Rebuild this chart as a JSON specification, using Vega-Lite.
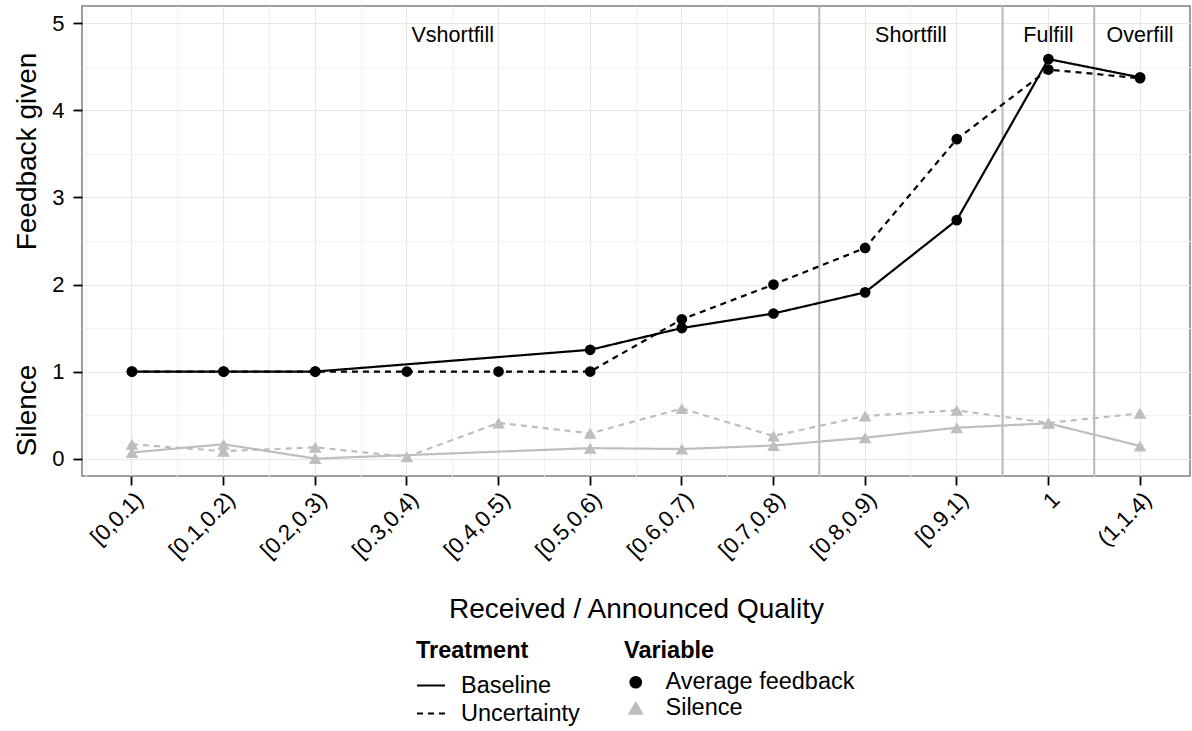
{
  "$schema": "https://vega.github.io/schema/vega-lite/v6.json",
  "width": 1108,
  "height": 470,
  "autosize": "none",
  "padding": {"left": 82, "top": 6, "right": 2, "bottom": 255},
  "background": "white",
  "config": {
    "font": "Liberation Sans",
    "view": {"stroke": "#7f7f7f", "strokeWidth": 1.5},
    "axis": {
      "labelFont": "Liberation Sans",
      "titleFont": "Liberation Sans",
      "labelFontSize": 22,
      "labelColor": "black",
      "titleFontSize": 28,
      "titleFontWeight": "normal",
      "titleColor": "black",
      "tickColor": "black",
      "tickSize": 9,
      "tickWidth": 1.8,
      "gridColor": "#e6e6e6",
      "gridWidth": 1.2,
      "domain": false
    },
    "legend": {
      "titleFont": "Liberation Sans",
      "labelFont": "Liberation Sans",
      "titleFontSize": 23.5,
      "titleFontWeight": "bold",
      "titleColor": "black",
      "labelFontSize": 23.5,
      "labelColor": "black",
      "labelLimit": 400,
      "padding": 0,
      "rowPadding": 1,
      "titlePadding": 8
    }
  },
  "datasets": {
    "main": [
      {"q": "[0,0.1)", "i": 1, "treatment": "Baseline", "variable": "Average feedback", "value": 1.0},
      {"q": "[0.1,0.2)", "i": 2, "treatment": "Baseline", "variable": "Average feedback", "value": 1.0},
      {"q": "[0.2,0.3)", "i": 3, "treatment": "Baseline", "variable": "Average feedback", "value": 1.0},
      {"q": "[0.5,0.6)", "i": 6, "treatment": "Baseline", "variable": "Average feedback", "value": 1.25},
      {"q": "[0.6,0.7)", "i": 7, "treatment": "Baseline", "variable": "Average feedback", "value": 1.5},
      {"q": "[0.7,0.8)", "i": 8, "treatment": "Baseline", "variable": "Average feedback", "value": 1.667},
      {"q": "[0.8,0.9)", "i": 9, "treatment": "Baseline", "variable": "Average feedback", "value": 1.91},
      {"q": "[0.9,1)", "i": 10, "treatment": "Baseline", "variable": "Average feedback", "value": 2.74},
      {"q": "1", "i": 11, "treatment": "Baseline", "variable": "Average feedback", "value": 4.59},
      {"q": "(1,1.4)", "i": 12, "treatment": "Baseline", "variable": "Average feedback", "value": 4.38},
      {"q": "[0,0.1)", "i": 1, "treatment": "Uncertainty", "variable": "Average feedback", "value": 1.0},
      {"q": "[0.1,0.2)", "i": 2, "treatment": "Uncertainty", "variable": "Average feedback", "value": 1.0},
      {"q": "[0.2,0.3)", "i": 3, "treatment": "Uncertainty", "variable": "Average feedback", "value": 1.0},
      {"q": "[0.3,0.4)", "i": 4, "treatment": "Uncertainty", "variable": "Average feedback", "value": 1.0},
      {"q": "[0.4,0.5)", "i": 5, "treatment": "Uncertainty", "variable": "Average feedback", "value": 1.0},
      {"q": "[0.5,0.6)", "i": 6, "treatment": "Uncertainty", "variable": "Average feedback", "value": 1.0},
      {"q": "[0.6,0.7)", "i": 7, "treatment": "Uncertainty", "variable": "Average feedback", "value": 1.6},
      {"q": "[0.7,0.8)", "i": 8, "treatment": "Uncertainty", "variable": "Average feedback", "value": 2.0},
      {"q": "[0.8,0.9)", "i": 9, "treatment": "Uncertainty", "variable": "Average feedback", "value": 2.42},
      {"q": "[0.9,1)", "i": 10, "treatment": "Uncertainty", "variable": "Average feedback", "value": 3.67},
      {"q": "1", "i": 11, "treatment": "Uncertainty", "variable": "Average feedback", "value": 4.47},
      {"q": "(1,1.4)", "i": 12, "treatment": "Uncertainty", "variable": "Average feedback", "value": 4.37},
      {"q": "[0,0.1)", "i": 1, "treatment": "Baseline", "variable": "Silence", "value": 0.07},
      {"q": "[0.1,0.2)", "i": 2, "treatment": "Baseline", "variable": "Silence", "value": 0.165},
      {"q": "[0.2,0.3)", "i": 3, "treatment": "Baseline", "variable": "Silence", "value": 0.0},
      {"q": "[0.5,0.6)", "i": 6, "treatment": "Baseline", "variable": "Silence", "value": 0.12},
      {"q": "[0.6,0.7)", "i": 7, "treatment": "Baseline", "variable": "Silence", "value": 0.11},
      {"q": "[0.7,0.8)", "i": 8, "treatment": "Baseline", "variable": "Silence", "value": 0.15},
      {"q": "[0.8,0.9)", "i": 9, "treatment": "Baseline", "variable": "Silence", "value": 0.24},
      {"q": "[0.9,1)", "i": 10, "treatment": "Baseline", "variable": "Silence", "value": 0.355},
      {"q": "1", "i": 11, "treatment": "Baseline", "variable": "Silence", "value": 0.405},
      {"q": "(1,1.4)", "i": 12, "treatment": "Baseline", "variable": "Silence", "value": 0.145},
      {"q": "[0,0.1)", "i": 1, "treatment": "Uncertainty", "variable": "Silence", "value": 0.165},
      {"q": "[0.1,0.2)", "i": 2, "treatment": "Uncertainty", "variable": "Silence", "value": 0.085},
      {"q": "[0.2,0.3)", "i": 3, "treatment": "Uncertainty", "variable": "Silence", "value": 0.13},
      {"q": "[0.3,0.4)", "i": 4, "treatment": "Uncertainty", "variable": "Silence", "value": 0.02},
      {"q": "[0.4,0.5)", "i": 5, "treatment": "Uncertainty", "variable": "Silence", "value": 0.41},
      {"q": "[0.5,0.6)", "i": 6, "treatment": "Uncertainty", "variable": "Silence", "value": 0.29},
      {"q": "[0.6,0.7)", "i": 7, "treatment": "Uncertainty", "variable": "Silence", "value": 0.575},
      {"q": "[0.7,0.8)", "i": 8, "treatment": "Uncertainty", "variable": "Silence", "value": 0.26},
      {"q": "[0.8,0.9)", "i": 9, "treatment": "Uncertainty", "variable": "Silence", "value": 0.49},
      {"q": "[0.9,1)", "i": 10, "treatment": "Uncertainty", "variable": "Silence", "value": 0.555},
      {"q": "1", "i": 11, "treatment": "Uncertainty", "variable": "Silence", "value": 0.41},
      {"q": "(1,1.4)", "i": 12, "treatment": "Uncertainty", "variable": "Silence", "value": 0.52}
    ],
    "regions_edge": [
      {"q": "[0.3,0.4)", "label": "Vshortfill", "y": 4.86},
      {"q": "[0.8,0.9)", "label": "Shortfill", "y": 4.86}
    ],
    "regions_center": [
      {"q": "1", "label": "Fulfill", "y": 4.86},
      {"q": "(1,1.4)", "label": "Overfill", "y": 4.86}
    ],
    "bounds": [
      {"q": "[0.8,0.9)"},
      {"q": "1"},
      {"q": "(1,1.4)"}
    ]
  },
  "layer": [
    {
      "data": {"name": "main"},
      "mark": {"type": "point", "opacity": 0},
      "encoding": {
        "x": {
          "field": "q", "type": "nominal",
          "scale": {"type": "band", "domain": ["[0,0.1)", "[0.1,0.2)", "[0.2,0.3)", "[0.3,0.4)", "[0.4,0.5)", "[0.5,0.6)", "[0.6,0.7)", "[0.7,0.8)", "[0.8,0.9)", "[0.9,1)", "1", "(1,1.4)"], "paddingInner": 0, "paddingOuter": 0.045},
          "axis": {"orient": "bottom", "bandPosition": 0, "grid": true, "gridColor": "#f3f3f3", "gridWidth": 1.2, "labels": false, "ticks": false, "title": null}
        },
        "y": {
          "field": "value", "type": "quantitative",
          "scale": {"domain": [-0.2, 5.2], "nice": false, "zero": false},
          "axis": {"orient": "left", "values": [0.5, 1.5, 2.5, 3.5, 4.5], "grid": true, "gridColor": "#f3f3f3", "gridWidth": 1.2, "labels": false, "ticks": false, "title": "Silence", "titleFontSize": 28, "titleX": -47, "titleY": 404, "titleAngle": 270, "titleAlign": "center", "titleBaseline": "alphabetic"}
        }
      }
    },
    {
      "layer": [
        {
          "data": {"name": "bounds"},
          "mark": {"type": "rule", "color": "#b8b8b8", "strokeWidth": 2},
          "encoding": {
            "x": {"field": "q", "type": "nominal", "bandPosition": 0}
          }
        },
        {
          "data": {"name": "main"},
          "mark": {"type": "line", "strokeWidth": 2.2},
          "encoding": {
            "x": {
              "field": "q", "type": "nominal", "bandPosition": 0.5,
              "scale": {"type": "band", "domain": ["[0,0.1)", "[0.1,0.2)", "[0.2,0.3)", "[0.3,0.4)", "[0.4,0.5)", "[0.5,0.6)", "[0.6,0.7)", "[0.7,0.8)", "[0.8,0.9)", "[0.9,1)", "1", "(1,1.4)"], "paddingInner": 0, "paddingOuter": 0.045},
              "axis": {"orient": "bottom", "bandPosition": 0.5, "grid": true, "labelFontSize": 22.5, "labelAngle": 315, "labelAlign": "right", "labelBaseline": "top", "labelPadding": 3, "title": "Received / Announced Quality", "titleFontSize": 28, "titleX": 554, "titleY": 141, "titleBaseline": "alphabetic", "titleAlign": "center"}
            },
            "y": {
              "field": "value", "type": "quantitative",
              "scale": {"domain": [-0.2, 5.2], "nice": false, "zero": false},
              "axis": {"orient": "left", "values": [0, 1, 2, 3, 4, 5], "format": "d", "grid": true, "labelFontSize": 22, "labelPadding": 9, "title": "Feedback given", "titleFontSize": 28, "titleX": -47, "titleY": 145, "titleAngle": 270, "titleAlign": "center", "titleBaseline": "alphabetic"}
            },
            "color": {
              "field": "variable", "type": "nominal",
              "scale": {"domain": ["Average feedback", "Silence"], "range": ["black", "#bebebe"]},
              "legend": {
                "title": "Variable", "orient": "none", "legendX": 542, "legendY": 633,
                "symbolSize": 150, "symbolStrokeWidth": 2, "labelOffset": 18
              }
            },
            "strokeDash": {
              "field": "treatment", "type": "nominal",
              "scale": {"domain": ["Baseline", "Uncertainty"], "range": [[1, 0], [6, 5]]},
              "legend": {
                "title": "Treatment", "orient": "none", "legendX": 334, "legendY": 633,
                "symbolType": "stroke", "symbolStrokeColor": "black", "symbolStrokeWidth": 2,
                "symbolSize": 784, "labelOffset": 15
              }
            },
            "detail": {"field": "treatment"},
            "order": {"field": "i", "type": "quantitative"}
          }
        },
        {
          "data": {"name": "main"},
          "mark": {"type": "point", "filled": true, "opacity": 1},
          "encoding": {
            "x": {"field": "q", "type": "nominal", "bandPosition": 0.5},
            "y": {"field": "value", "type": "quantitative"},
            "color": {"field": "variable", "type": "nominal", "legend": null},
            "shape": {
              "field": "variable", "type": "nominal",
              "scale": {"domain": ["Average feedback", "Silence"], "range": ["circle", "triangle-up"]},
              "legend": null
            },
            "size": {
              "field": "variable", "type": "nominal",
              "scale": {"domain": ["Average feedback", "Silence"], "range": [115, 160]},
              "legend": null
            }
          }
        },
        {
          "data": {"name": "regions_edge"},
          "mark": {"type": "text", "fontSize": 21.5, "color": "black", "baseline": "middle", "align": "center"},
          "encoding": {
            "x": {"field": "q", "type": "nominal", "bandPosition": 1},
            "y": {"field": "y", "type": "quantitative"},
            "text": {"field": "label"}
          }
        },
        {
          "data": {"name": "regions_center"},
          "mark": {"type": "text", "fontSize": 21.5, "color": "black", "baseline": "middle", "align": "center"},
          "encoding": {
            "x": {"field": "q", "type": "nominal", "bandPosition": 0.5},
            "y": {"field": "y", "type": "quantitative"},
            "text": {"field": "label"}
          }
        }
      ]
    }
  ],
  "resolve": {
    "scale": {"x": "independent", "y": "independent"},
    "axis": {"x": "independent", "y": "independent"}
  }
}
